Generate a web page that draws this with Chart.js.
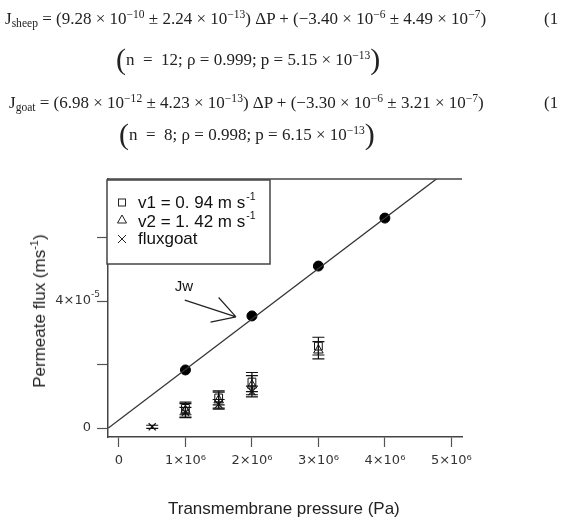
<!DOCTYPE html>
<html>
<head>
<meta charset="utf-8">
<script src="https://cdn.jsdelivr.net/npm/chart.js@4.4.0/dist/chart.umd.min.js"></script>
<style>
  body { margin: 0; background: #fff; }
  #wrap { position: relative; width: 567px; height: 520px; overflow: hidden; }
  #myChart { position: absolute; left: 0; top: 0; }
  .eq { position: absolute; font-family: "Liberation Serif", serif; font-size: 17px; line-height: 17px; white-space: nowrap; color: #222; }
  .eq sup, .eq sub { font-size: 0.68em; line-height: 0; }
  .eq sup { vertical-align: 0.55em; }
  .eq sub { vertical-align: -0.25em; }
  .big { font-size: 30px; font-weight: 100; vertical-align: -4px; }
  .title { position: absolute; font-family: "Liberation Sans", Arial, sans-serif; font-size: 17px; color: #222; white-space: nowrap; }
  .title sup { font-size: 0.65em; line-height: 0; vertical-align: 0.6em; }
</style>
</head>
<body>
<div id="wrap">
  <canvas id="myChart" width="567" height="520"></canvas>
  <div class="eq" style="left:5px; top:10px;">J<sub>sheep</sub> = (9.28 × 10<sup>−10</sup> ± 2.24 × 10<sup>−13</sup>) ΔP + (−3.40 × 10<sup>−6</sup> ± 4.49 × 10<sup>−7</sup>)</div>
  <div class="eq" style="left:544px; top:10px;">(1</div>
  <div class="eq" style="left:116px; top:50px;"><span class="big">(</span>n&nbsp; = &nbsp;12; ρ = 0.999; p = 5.15 × 10<sup>−13</sup><span class="big">)</span></div>
  <div class="eq" style="left:9px; top:94px;">J<sub>goat</sub> = (6.98 × 10<sup>−12</sup> ± 4.23 × 10<sup>−13</sup>) ΔP + (−3.30 × 10<sup>−6</sup> ± 3.21 × 10<sup>−7</sup>)</div>
  <div class="eq" style="left:544px; top:94px;">(1</div>
  <div class="eq" style="left:119px; top:125px;"><span class="big">(</span>n&nbsp; = &nbsp;8; ρ = 0.998; p = 6.15 × 10<sup>−13</sup><span class="big">)</span></div>
  <div class="title" id="ytitle" style="left:40px; top:311px; transform: translate(-50%,-50%) rotate(-90deg);">Permeate flux (ms<sup>-1</sup>)</div>
  <div class="title" style="left:168px; top:499px;">Transmembrane pressure (Pa)</div>
</div>
<script>
// axis ticks
var xTicks = [0, 1e6, 2e6, 3e6, 4e6, 5e6];
var xTickLabels = ['0', '1×10⁶', '2×10⁶', '3×10⁶', '4×10⁶', '5×10⁶'];
var yTicks = [0, 2e-5, 4e-5, 6e-5];
var yTickBase = ['0', '', '4×10', ''];
var yTickExp = ['', '', '-5', ''];

// Jw (filled dots) and its fitted line
var jwPressure = [1e6, 2e6, 3e6, 4e6];
var jwFlux = [1.83e-5, 3.53e-5, 5.10e-5, 6.61e-5];
var fitPressure = [-0.16e6, 4.8e6];
var fitFlux = [0, 7.88e-5];

// v1 = 0.94 m/s (squares)
var v1Pressure = [1e6, 1.5e6, 2e6, 3e6];
var v1Flux = [0.62e-5, 0.95e-5, 1.45e-5, 2.58e-5];
var v1Err = [0.2e-5, 0.22e-5, 0.3e-5, 0.28e-5];

// v2 = 1.42 m/s (triangles)
var v2Pressure = [1e6, 1.5e6, 2e6, 3e6];
var v2Flux = [0.55e-5, 0.88e-5, 1.35e-5, 2.45e-5];
var v2Err = [0.22e-5, 0.25e-5, 0.3e-5, 0.27e-5];

// fluxgoat (crosses)
var goatPressure = [0.5e6, 1e6, 1.5e6, 2e6];
var goatFlux = [0.04e-5, 0.5e-5, 0.75e-5, 1.15e-5];
var goatErr = [0.05e-5, 0.15e-5, 0.15e-5, 0.17e-5];

function pts(xs, ys) {
    return xs.map((x, i) => ({x: x, y: ys[i]}));
}

var errorBars = {
    id: 'errorBars',
    afterDatasetsDraw(chart) {
        const ctx = chart.ctx;
        const xs = chart.scales.x, ys = chart.scales.y;
        ctx.save();
        ctx.strokeStyle = '#111';
        ctx.lineWidth = 1.2;
        chart.data.datasets.forEach(ds => {
            if (!ds.err) return;
            ds.data.forEach((p, i) => {
                const px = xs.getPixelForValue(p.x);
                const y1 = ys.getPixelForValue(p.y - ds.err[i]);
                const y2 = ys.getPixelForValue(p.y + ds.err[i]);
                ctx.beginPath();
                ctx.moveTo(px, y1); ctx.lineTo(px, y2);
                ctx.moveTo(px - 6, y1); ctx.lineTo(px + 6, y1);
                ctx.moveTo(px - 6, y2); ctx.lineTo(px + 6, y2);
                ctx.stroke();
            });
        });
        ctx.restore();
    }
};

var frameAndNotes = {
    id: 'frameAndNotes',
    afterDraw(chart) {
        const ctx = chart.ctx;
        const a = chart.chartArea;
        const xs = chart.scales.x, ys = chart.scales.y;
        ctx.save();
        // top frame line
        ctx.strokeStyle = '#444';
        ctx.lineWidth = 1.5;
        ctx.beginPath();
        ctx.moveTo(a.left, a.top); ctx.lineTo(a.right, a.top);
        ctx.stroke();

        // y tick labels (base + superscript)
        ctx.fillStyle = '#333';
        ctx.textBaseline = 'middle';
        yTicks.forEach((v, i) => {
            if (!yTickBase[i]) return;
            const py = ys.getPixelForValue(v);
            ctx.font = '13px "DejaVu Sans"';
            ctx.textAlign = 'right';
            ctx.fillText(yTickBase[i], a.left - 17, py);
            if (yTickExp[i]) {
                ctx.font = '9px "DejaVu Sans"';
                ctx.textAlign = 'left';
                ctx.fillText(yTickExp[i], a.left - 17, py - 6);
            }
        });
        ctx.textAlign = 'left';

        // legend box
        ctx.strokeStyle = '#444';
        const bx = a.left - 1, by = a.top + 1, bw = 163, bh = 84;
        ctx.fillStyle = '#fff';
        ctx.fillRect(bx, by, bw, bh);
        ctx.strokeRect(bx, by, bw, bh);

        ctx.strokeStyle = '#222';
        ctx.lineWidth = 1;
        const mx = bx + 15;
        // square
        ctx.strokeRect(mx - 3.5, by + 19, 7, 7);
        // triangle
        ctx.beginPath();
        ctx.moveTo(mx, by + 35); ctx.lineTo(mx + 4.5, by + 43); ctx.lineTo(mx - 4.5, by + 43); ctx.closePath();
        ctx.stroke();
        // cross
        ctx.beginPath();
        ctx.moveTo(mx - 4, by + 55); ctx.lineTo(mx + 4, by + 63);
        ctx.moveTo(mx + 4, by + 55); ctx.lineTo(mx - 4, by + 63);
        ctx.stroke();

        ctx.fillStyle = '#111';
        ctx.textBaseline = 'alphabetic';
        const rows = [['v1 = 0. 94 m s', '-1', by + 28], ['v2 = 1. 42 m s', '-1', by + 47], ['fluxgoat', '', by + 64]];
        rows.forEach(r => {
            ctx.font = '17px "Liberation Sans", Arial, sans-serif';
            ctx.fillText(r[0], bx + 31, r[2]);
            if (r[1]) {
                const w = ctx.measureText(r[0]).width;
                ctx.font = '10.5px "Liberation Sans", Arial, sans-serif';
                ctx.fillText(r[1], bx + 31 + w + 1, r[2] - 8);
            }
        });

        // Jw annotation
        ctx.font = '15px "Liberation Sans", Arial, sans-serif';
        ctx.fillText('Jw', xs.getPixelForValue(0.84e6), ys.getPixelForValue(4.3e-5));
        const tx = xs.getPixelForValue(1.76e6), ty = ys.getPixelForValue(3.5e-5);
        const sx = xs.getPixelForValue(0.99e6), sy = ys.getPixelForValue(4.03e-5);
        const ang = Math.atan2(ty - sy, tx - sx);
        ctx.strokeStyle = '#222';
        ctx.lineWidth = 1.2;
        ctx.beginPath();
        ctx.moveTo(sx, sy); ctx.lineTo(tx, ty);
        [Math.PI / 6, -Math.PI / 6].forEach(d => {
            ctx.moveTo(tx, ty);
            ctx.lineTo(tx - 26 * Math.cos(ang + d), ty - 26 * Math.sin(ang + d));
        });
        ctx.stroke();
        ctx.restore();
    }
};

const CHART = document.getElementById('myChart');
let myChart = new Chart(CHART, {
    type: 'scatter',
    data: {
        datasets: [{
            label: 'fit',
            type: 'line',
            data: pts(fitPressure, fitFlux),
            borderColor: '#333',
            borderWidth: 1.3,
            pointRadius: 0,
            fill: false
        }, {
            label: 'Jw',
            data: pts(jwPressure, jwFlux),
            pointStyle: 'circle',
            pointRadius: 5,
            backgroundColor: '#000',
            borderColor: '#000'
        }, {
            label: 'v1 = 0. 94 m s-1',
            data: pts(v1Pressure, v1Flux),
            err: v1Err,
            pointStyle: 'rect',
            pointRadius: 5.5,
            borderWidth: 1,
            backgroundColor: 'rgba(0,0,0,0)',
            borderColor: '#111'
        }, {
            label: 'v2 = 1. 42 m s-1',
            data: pts(v2Pressure, v2Flux),
            err: v2Err,
            pointStyle: 'triangle',
            pointRadius: 5.5,
            borderWidth: 1,
            backgroundColor: 'rgba(0,0,0,0)',
            borderColor: '#111'
        }, {
            label: 'fluxgoat',
            data: pts(goatPressure, goatFlux),
            err: goatErr,
            pointStyle: 'crossRot',
            pointRadius: 5,
            borderWidth: 1.2,
            borderColor: '#111'
        }]
    },
    options: {
        responsive: false,
        animation: false,
        devicePixelRatio: 1,
        layout: { padding: { left: 0, top: 179, right: 105, bottom: 0 } },
        plugins: { legend: { display: false }, tooltip: { enabled: false } },
        scales: {
            x: {
                type: 'linear',
                min: -0.165e6,
                max: 5.16e6,
                afterBuildTicks: s => { s.ticks = xTicks.map(v => ({value: v})); },
                afterFit: s => { s.height = 83; },
                ticks: {
                    callback: (v, i) => xTickLabels[i],
                    font: { family: 'DejaVu Sans', size: 13 },
                    color: '#333',
                    padding: 6,
                    maxRotation: 0
                },
                grid: { drawOnChartArea: false, tickLength: 10, color: '#555', tickWidth: 1.2 },
                border: { color: '#444', width: 1.5 }
            },
            y: {
                type: 'linear',
                min: -0.28e-5,
                max: 7.84e-5,
                afterBuildTicks: s => { s.ticks = yTicks.map(v => ({value: v})); },
                afterFit: s => { s.width = 108; },
                ticks: { display: false },
                grid: { drawOnChartArea: false, tickLength: 11, color: '#555', tickWidth: 1.2 },
                border: { color: '#444', width: 1.5 }
            }
        }
    },
    plugins: [errorBars, frameAndNotes]
});
</script>
</body>
</html>
